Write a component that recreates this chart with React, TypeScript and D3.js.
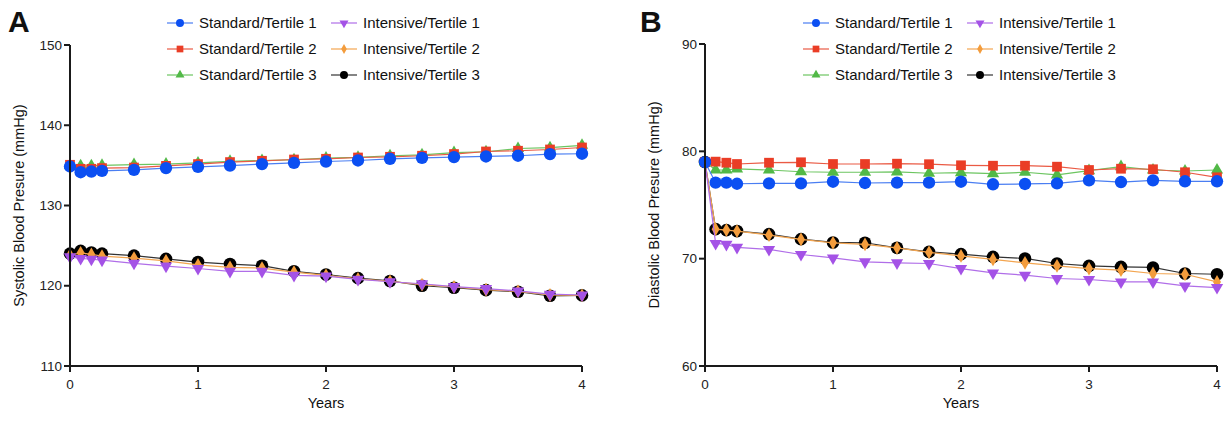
import React from "react";
import * as d3 from "d3";

const years = [0, 0.083, 0.167, 0.25, 0.5, 0.75, 1, 1.25, 1.5, 1.75, 2, 2.25, 2.5, 2.75, 3, 3.25, 3.5, 3.75, 4];
const xTicks = [0, 1, 2, 3, 4];
const sbpTicks = [110, 120, 130, 140, 150];
const dbpTicks = [60, 70, 80, 90];

const sbpStdT1 = [134.86, 134.15, 134.23, 134.32, 134.44, 134.66, 134.82, 134.98, 135.16, 135.32, 135.48, 135.61, 135.82, 135.94, 136.03, 136.11, 136.2, 136.41, 136.45];
const sbpStdT2 = [135.07, 134.57, 134.57, 134.66, 134.73, 134.94, 135.16, 135.41, 135.57, 135.73, 135.82, 135.98, 136.07, 136.2, 136.41, 136.73, 136.82, 136.98, 137.23];
const sbpStdT3 = [135.0, 134.95, 134.95, 135.0, 135.1, 135.15, 135.3, 135.5, 135.6, 135.7, 135.9, 136.0, 136.2, 136.3, 136.6, 136.7, 137.1, 137.2, 137.5];
const sbpIntT1 = [123.6, 123.4, 123.3, 123.2, 122.8, 122.45, 122.15, 121.8, 121.8, 121.3, 121.2, 120.8, 120.5, 120.25, 119.9, 119.65, 119.35, 118.95, 118.85];
const sbpIntT2 = [123.8, 124.1, 123.9, 123.7, 123.45, 123.1, 122.6, 122.3, 122.2, 121.7, 121.3, 120.85, 120.55, 120.15, 119.85, 119.5, 119.3, 118.85, 118.8];
const sbpIntT3 = [124.0, 124.35, 124.15, 124.0, 123.75, 123.35, 122.95, 122.7, 122.5, 121.8, 121.4, 120.95, 120.6, 120.0, 119.75, 119.45, 119.25, 118.75, 118.8];

const dbpStdT1 = [79.0, 77.08, 77.08, 76.98, 77.02, 77.02, 77.17, 77.05, 77.08, 77.08, 77.17, 76.93, 76.96, 77.02, 77.3, 77.14, 77.3, 77.21, 77.21];
const dbpStdT2 = [79.0, 79.04, 78.94, 78.82, 78.94, 78.98, 78.82, 78.82, 78.85, 78.8, 78.7, 78.66, 78.66, 78.57, 78.26, 78.38, 78.33, 78.05, 77.58];
const dbpStdT3 = [79.0, 78.26, 78.26, 78.36, 78.26, 78.1, 78.05, 78.05, 78.08, 77.96, 78.01, 77.92, 78.05, 77.8, 78.2, 78.57, 78.26, 78.17, 78.26];
const dbpIntT1 = [79.0, 71.42, 71.33, 71.05, 70.86, 70.39, 70.07, 69.7, 69.61, 69.55, 69.08, 68.67, 68.46, 68.15, 68.06, 67.83, 67.83, 67.46, 67.31];
const dbpIntT2 = [79.0, 72.75, 72.66, 72.57, 72.2, 71.79, 71.48, 71.33, 71.01, 70.58, 70.26, 69.93, 69.61, 69.33, 69.08, 68.93, 68.62, 68.55, 67.83];
const dbpIntT3 = [79.0, 72.75, 72.66, 72.57, 72.29, 71.82, 71.51, 71.48, 71.01, 70.63, 70.42, 70.17, 70.02, 69.55, 69.33, 69.23, 69.18, 68.62, 68.55];

const seriesNames = ["Standard/Tertile 1", "Standard/Tertile 2", "Standard/Tertile 3", "Intensive/Tertile 1", "Intensive/Tertile 2", "Intensive/Tertile 3"];

type Style = { color: string; line: string; shape: string; size: number; legendSize: number; rot?: number };
const styles: Record<string, Style> = {
  "Standard/Tertile 1": { color: "#0b4ff2", line: "#4a7ef2", shape: "circle", size: 120, legendSize: 50 },
  "Standard/Tertile 2": { color: "#ea3d26", line: "#ea5a44", shape: "square", size: 95, legendSize: 45 },
  "Standard/Tertile 3": { color: "#52b947", line: "#6cc560", shape: "triangle", size: 65, legendSize: 35 },
  "Intensive/Tertile 1": { color: "#a452e6", line: "#b06ee8", shape: "triangle", size: 65, legendSize: 35, rot: 180 },
  "Intensive/Tertile 2": { color: "#f39c3c", line: "#f3a550", shape: "diamond", size: 55, legendSize: 28 },
  "Intensive/Tertile 3": { color: "#000000", line: "#333333", shape: "circle", size: 125, legendSize: 50 },
};
const drawOrder = ["Intensive/Tertile 3", "Intensive/Tertile 2", "Intensive/Tertile 1", "Standard/Tertile 3", "Standard/Tertile 2", "Standard/Tertile 1"];

const symType = (s: string) =>
  s === "circle" ? d3.symbolCircle : s === "square" ? d3.symbolSquare : s === "triangle" ? d3.symbolTriangle : d3.symbolDiamond;

const FONT = "'Liberation Sans', Arial, Helvetica, sans-serif";

function Panel(props: {
  letter: string; letterX: number; x0: number; x1: number; y0: number; y1: number;
  domain: [number, number]; yTicks: number[]; title: string;
  data: Record<string, number[]>; legendX: number;
}) {
  const { letter, letterX, x0, x1, y0, y1, domain, yTicks, title, data, legendX } = props;
  const x = d3.scaleLinear().domain([0, 4]).range([x0, x1]);
  const y = d3.scaleLinear().domain(domain).range([y1, y0]);
  const line = d3.line<number>().x((_, i) => x(years[i])).y((v) => y(v));
  const ink = "#1a1a1a";
  const legendRows = [23, 49, 75];
  return (
    <g>
      <text x={letterX} y={32} fontFamily={FONT} fontWeight="bold" fontSize={30} fill="#111">{letter}</text>
      {seriesNames.map((n, i) => {
        const col = Math.floor(i / 3);
        const row = i % 3;
        const mx = legendX + col * 164;
        const my = legendRows[row];
        const st = styles[n];
        return (
          <g key={n}>
            <line x1={mx - 13} x2={mx + 13} y1={my} y2={my} stroke={st.line} strokeWidth={1.2} />
            <path d={d3.symbol().type(symType(st.shape)).size(st.legendSize)() || ""} transform={`translate(${mx},${my}) rotate(${st.rot || 0})`} fill={st.color} />
            <text x={mx + 19} y={my} dy="0.35em" fontFamily={FONT} fontSize={15} fill="#111">{n}</text>
          </g>
        );
      })}
      {drawOrder.map((n) => {
        const st = styles[n];
        const vals = data[n];
        return (
          <g key={n}>
            <path d={line(vals) || ""} fill="none" stroke={st.line} strokeWidth={1.2} />
            {vals.map((v, i) => (
              <path key={i} d={d3.symbol().type(symType(st.shape)).size(st.size)() || ""} transform={`translate(${x(years[i])},${y(v)}) rotate(${st.rot || 0})`} fill={st.color} />
            ))}
          </g>
        );
      })}
      <line x1={x0} x2={x0} y1={y0} y2={y1} stroke={ink} strokeWidth={2} />
      <line x1={x0} x2={x1} y1={y1} y2={y1} stroke={ink} strokeWidth={2} />
      {yTicks.map((t) => (
        <g key={t}>
          <line x1={x0 - 6} x2={x0} y1={y(t)} y2={y(t)} stroke={ink} strokeWidth={2} />
          <text x={x0 - 8} y={y(t)} dy="0.35em" textAnchor="end" fontFamily={FONT} fontSize={13.5} fill="#222">{t}</text>
        </g>
      ))}
      {xTicks.map((t) => (
        <g key={t}>
          <line x1={x(t)} x2={x(t)} y1={y1} y2={y1 + 6} stroke={ink} strokeWidth={2} />
          <text x={x(t)} y={y1 + 18} dy="0.35em" textAnchor="middle" fontFamily={FONT} fontSize={13.5} fill="#222">{t}</text>
        </g>
      ))}
      <text x={(x0 + x1) / 2} y={y1 + 37} dy="0.35em" textAnchor="middle" fontFamily={FONT} fontSize={14.5} fill="#111">Years</text>
      <text transform={`translate(${x0 - 51},${(y0 + y1) / 2}) rotate(-90)`} dy="0.35em" textAnchor="middle" fontFamily={FONT} fontSize={14.5} fill="#111">{title}</text>
    </g>
  );
}

export default function App() {
  const sbp: Record<string, number[]> = {
    "Standard/Tertile 1": sbpStdT1, "Standard/Tertile 2": sbpStdT2, "Standard/Tertile 3": sbpStdT3,
    "Intensive/Tertile 1": sbpIntT1, "Intensive/Tertile 2": sbpIntT2, "Intensive/Tertile 3": sbpIntT3,
  };
  const dbp: Record<string, number[]> = {
    "Standard/Tertile 1": dbpStdT1, "Standard/Tertile 2": dbpStdT2, "Standard/Tertile 3": dbpStdT3,
    "Intensive/Tertile 1": dbpIntT1, "Intensive/Tertile 2": dbpIntT2, "Intensive/Tertile 3": dbpIntT3,
  };
  return (
    <svg width={1231} height={421} style={{ position: "absolute", left: 0, top: 0, background: "#fff" }}>
      <Panel letter="A" letterX={8} x0={70} x1={582} y0={45} y1={366} domain={[110, 150]} yTicks={sbpTicks}
        title="Systolic Blood Presure (mmHg)" data={sbp} legendX={180} />
      <Panel letter="B" letterX={640} x0={705} x1={1217} y0={44} y1={366} domain={[60, 90]} yTicks={dbpTicks}
        title="Diastolic Blood Presure (mmHg)" data={dbp} legendX={816} />
    </svg>
  );
}
